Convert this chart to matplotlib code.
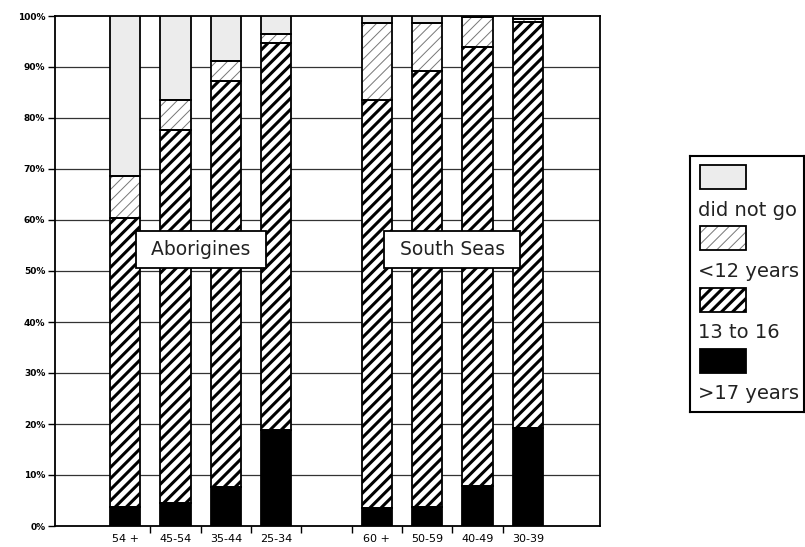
import numpy as np
import matplotlib.pyplot as plt
from matplotlib.patches import Rectangle

# age groups (blank slot between the two populations)
groups = ["54 +", "45-54", "35-44", "25-34", "60 +", "50-59", "40-49", "30-39"]
slots = [0, 1, 2, 3, 5, 6, 7, 8]
# percent of each age group by schooling
over17 = [3.8, 4.6, 7.7, 18.8, 3.5, 3.7, 7.8, 19.2]
age13_16 = [56.5, 73.0, 79.6, 76.0, 80.0, 85.6, 86.2, 79.7]
under12 = [8.3, 5.9, 3.9, 1.6, 15.1, 9.3, 5.8, 0.6]
did_not_go = [31.4, 16.5, 8.8, 3.6, 1.4, 1.4, 0.2, 0.5]
populations = ["Aborigines", "South Seas"]
pop_centres = [1.5, 6.5]
legend_labels = ["did not go", "<12 years", "13 to 16", ">17 years"]

W, H = 805, 547
fig = plt.figure(figsize=(W / 100, H / 100), dpi=100)
ax = fig.add_axes([55 / W, (H - 526) / H, 545 / W, 510 / H])

x = np.array(slots, dtype=float)
bw = 0.6
b1 = np.array(over17)
b2 = b1 + np.array(age13_16)
b3 = b2 + np.array(under12)

# styles: (face, hatch, hatch colour, hatch lw)
styles = {
    ">17": ("black", None, "black", 1.0),
    "13-16": ("white", "///", "black", 2.2),
    "<12": ("white", "///", "#777777", 0.7),
    "none": ("#ececec", None, "black", 1.0),
}


def draw_bars(a, bottoms, heights, key):
    face, hatch, hc, hlw = styles[key]
    plt.rcParams['hatch.linewidth'] = hlw
    a.bar(x, heights, bw, bottom=bottoms, color=face, hatch=hatch,
          edgecolor=hc, linewidth=0, zorder=3)
    a.bar(x, heights, bw, bottom=bottoms, fill=False, edgecolor="black",
          linewidth=1.3, zorder=4)


draw_bars(ax, 0, over17, ">17")
draw_bars(ax, b1, age13_16, "13-16")
draw_bars(ax, b2, under12, "<12")
draw_bars(ax, b3, did_not_go, "none")

ax.set_xlim(-1.394, 9.434)
ax.set_ylim(0, 100)
ax.set_yticks(np.arange(0, 101, 10))
ax.set_yticklabels([f"{v}%" for v in range(0, 101, 10)], fontsize=6.5,
                   fontweight="bold")
for v in range(10, 100, 10):
    ax.axhline(v, color="#333333", lw=0.9, zorder=1)

ax.set_xticks(slots)
ax.set_xticklabels(groups, fontsize=8)
ax.set_xticks(np.arange(0.5, 8, 1), minor=True)
ax.tick_params(axis="x", which="major", length=0, pad=6)
ax.tick_params(axis="x", which="minor", length=5, width=1, direction="out")
ax.tick_params(axis="y", length=5, width=1, direction="out", pad=2)
for s in ax.spines.values():
    s.set_linewidth(1.3)

for name, cx in zip(populations, pop_centres):
    ax.text(cx, 54.2, f" {name} ", fontsize=13.5, ha="center", va="center",
            color="#222222", zorder=6,
            bbox=dict(boxstyle="square,pad=0.5", fc="white", ec="black",
                      lw=1.3))

# legend box
lax = fig.add_axes([690 / W, (H - 412) / H, 114 / W, 256 / H])
lax.set_xlim(690, 804)
lax.set_ylim(412, 156)
lax.set_xticks([])
lax.set_yticks([])
for s in lax.spines.values():
    s.set_linewidth(1.5)
keys = ["none", "<12", "13-16", ">17"]
for i, (lab, key) in enumerate(zip(legend_labels, keys)):
    top = 165 + i * 61.3
    face, hatch, hc, hlw = styles[key]
    plt.rcParams['hatch.linewidth'] = hlw
    lax.add_patch(Rectangle((700, top), 46, 24, facecolor=face, hatch=hatch,
                            edgecolor=hc, linewidth=0))
    lax.add_patch(Rectangle((700, top), 46, 24, fill=False,
                            edgecolor="black", linewidth=1.3))
    lax.text(698, top + 45, lab, fontsize=14, va="center", ha="left",
             color="#222222", clip_on=True)

fig.savefig("out.png", dpi=100)
